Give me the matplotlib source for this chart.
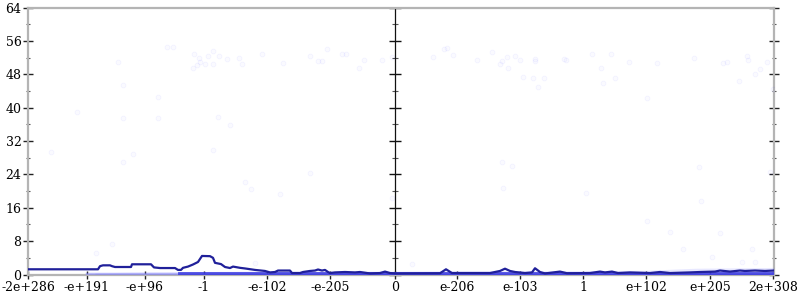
import matplotlib.pyplot as plt

# x is the position along the ordered float axis (0 = zero), y is the error value
tick_pos = [-367, -308, -250, -191, -128, -65, 0, 62, 125, 188, 251, 315, 378]
tick_labels = ['-2e+286', '-e+191', '-e+96', '-1', '-e-102', '-e-205', '0',
               'e-206', 'e-103', '1', 'e+102', 'e+205', '2e+308']

# running mean line
line_x = [-367, -297, -295, -292, -285, -283, -280, -264, -263, -244, -241, -235,
          -220, -217, -214, -212, -207, -202, -197, -193, -185, -182, -180, -174,
          -170, -165, -162, -155, -150, -140, -130, -125, -120, -117, -105, -103,
          -95, -92, -85, -80, -77, -73, -70, -67, -65, -60, -50, -40, -35, -25,
          -15, -10, -5, 0, 45, 51, 57, 95, 105, 110, 115, 120, 130, 137, 140, 145,
          150, 165, 172, 195, 205, 210, 217, 223, 235, 255, 265, 275, 295, 305,
          320, 325, 335, 345, 350, 360, 370, 379]
line_y = [1.25, 1.25, 2.0, 2.2, 2.2, 2.0, 1.8, 1.8, 2.45, 2.45, 1.7, 1.55,
          1.55, 1.1, 1.1, 1.6, 1.9, 2.4, 3.0, 4.45, 4.4, 4.0, 2.8, 2.5,
          1.8, 1.55, 1.9, 1.6, 1.45, 1.1, 0.85, 0.5, 0.6, 0.95, 0.95, 0.35,
          0.35, 0.6, 0.85, 0.95, 1.2, 0.95, 1.1, 0.6, 0.35, 0.5, 0.6, 0.5, 0.6, 0.25,
          0.35, 0.7, 0.35, 0.25, 0.3, 1.25, 0.35, 0.35, 0.85, 1.4, 0.85, 0.6, 0.35, 0.5, 1.5, 0.6,
          0.25, 0.7, 0.3, 0.35, 0.7, 0.5, 0.7, 0.35, 0.5, 0.35, 0.6, 0.35, 0.5, 0.6,
          0.7, 0.95, 0.7, 0.95, 0.85, 0.95, 0.85, 0.95]

# sparse outlier samples
pts_x = [37.7, 48.7, 52, 58.3, 82, 97.3, 107, 105, 112.3, 113, 120.3, 125, 128,
         138.3, 139.7, 140.3, 143, 148.7, 168.7, 171.3, 197.3, 206, 208, 215.7,
         220, 234.3, 252, 262.3, 298.7, 328.3, 331.7, 344, 351.7, 353, 359.7, 365,
         371.7, 378.3, 375, 106.7, 116.7, 108, 191, 303.7, 252, 275, 306, 325,
         288, 316.7, 357.3, 346.7, 360.3, 16.7,
         -317.7, -276.7, -272, -237, -228.3, -221.7, -201, -202.3, -197.7, -195.7,
         -195, -190, -186.7, -182, -181.7, -175.7, -168, -155.7, -153.3, -133.3,
         -111.7, -84.7, -76.7, -73.3, -68, -53.3, -49.3, -36.3, -31.3, -12.7, -3,
         -271.7, -237, -176.7, -165, -344, -272, -262, -182.3, -150, -144, -115,
         -85, -2.7, -299.3, -282.7, -140.3]
pts_y = [52.2, 54.0, 54.4, 52.6, 51.4, 53.4, 51.3, 50.5, 52.3, 49.6, 52.5, 51.4, 47.3,
         47.1, 51.6, 51.3, 44.9, 47.1, 51.7, 51.4, 53.0, 49.6, 45.9, 52.9,
         47.2, 51.1, 42.3, 50.7, 52.0, 50.7, 50.9, 46.4, 52.5, 51.5, 48.0, 49.2,
         50.9, 44.6, 24.7, 27.0, 26.0, 20.8, 19.6, 25.8, 12.9, 10.2, 17.6, 10.0,
         6.1, 4.3, 6.2, 3.0, 3.0, 2.5,
         38.9, 51.1, 45.5, 42.6, 54.5, 54.5, 52.8, 49.6, 50.3, 51.9,
         50.9, 50.4, 52.4, 53.6, 50.4, 52.4, 51.7, 52.0, 50.4, 52.9,
         50.8, 52.5, 51.3, 51.3, 54.0, 52.8, 52.9, 49.6, 51.4, 51.4, 52.2,
         37.5, 37.5, 37.7, 35.9, 29.4, 27.1, 28.9, 29.9, 22.2, 20.6, 19.3,
         24.3, 18.3, 5.1, 7.2, 2.7]

# dense cloud of samples close to zero
band_x = [-300, -250, -150, 0, 50, 150, 250, 300, 379]
band_top = [0.4, 0.6, 0.8, 0.8, 0.9, 0.9, 1.0, 1.5, 1.7]
floor_x = [-215, 379]
floor_y = [0.2, 0.2]

plt.rcParams['font.family'] = 'DejaVu Serif'
fig = plt.figure(figsize=(8, 3), dpi=100)
ax = fig.add_axes([0.035, 0.085, 0.9325, 0.889])

ax.fill_between(band_x, 0, band_top, color='#6060ff', alpha=0.14, lw=0, zorder=3)
ax.plot([-308, 379], floor_y, color='#8080ff', lw=2.5, alpha=0.5, zorder=3)
ax.plot(floor_x, floor_y, color='#3333dd', lw=2.8, alpha=0.8, zorder=3)
ax.scatter(pts_x, pts_y, s=12, facecolor=(0, 0, 1, 0.02),
           edgecolor=(0, 0, 1, 0.045), linewidth=0.6, zorder=3)
ax.plot(line_x, line_y, color='#20209a', lw=1.6, zorder=4)

ax.set_xlim(-367, 379)
ax.set_ylim(0, 64)
ax.set_xticks(tick_pos)
ax.set_xticklabels(tick_labels)
ax.set_yticks(range(0, 65, 8))
ax.set_yticks(range(4, 64, 8), minor=True)

for side in ['left', 'right', 'top', 'bottom']:
    ax.spines[side].set_color('#b4b4b4')
    ax.spines[side].set_linewidth(1.6)

ax.tick_params(axis='y', which='major', direction='inout', length=7.5, width=1,
               color='#222222', right=True, labelsize=9, pad=1)
ax.tick_params(axis='y', which='minor', direction='inout', length=3.5, width=0.8,
               color='#555555', right=True)
ax.tick_params(axis='x', which='major', direction='inout', length=6, width=1,
               color='#222222', labelsize=9, pad=2)

# zero axis in the middle
mid = ax.secondary_yaxis(367 / 746)
mid.spines['left'].set_color('#111111')
mid.spines['left'].set_linewidth(0.9)
mid.set_yticks(range(0, 65, 8))
mid.set_yticks(range(4, 64, 8), minor=True)
mid.tick_params(which='major', direction='inout', length=8, width=1,
                color='#111111', labelleft=False)
mid.tick_params(which='minor', direction='inout', length=4, width=0.8,
                color='#555555')

fig.savefig('out.png', dpi=100)
